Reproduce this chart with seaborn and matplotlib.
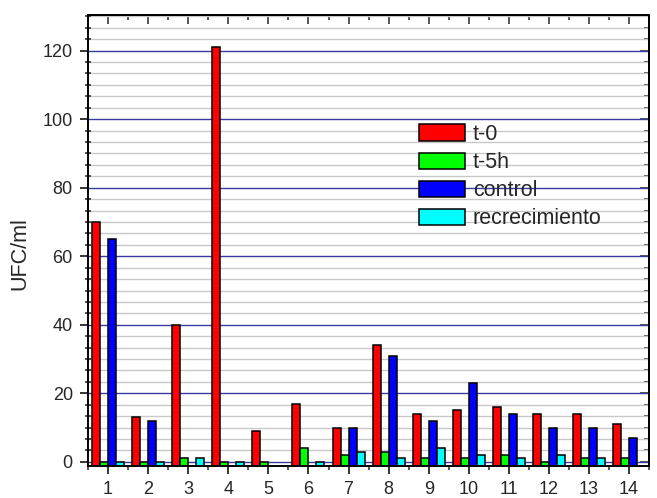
import numpy as np
import pandas as pd
import matplotlib
matplotlib.use("Agg")
import matplotlib.pyplot as plt
import seaborn as sns
from matplotlib.ticker import MultipleLocator, FixedLocator

# datos (NaN = barra ausente)
muestras = [str(i) for i in range(1, 15)]
t0 = [70, 13, 40, 121, 9, 17, 10, 34, 14, 15, 16, 14, 14, 11]
t5h = [0, 0, 1, 0, 0, 4, 2, 3, 1, 1, 2, 0, 1, 1]
control = [65, 12, np.nan, np.nan, np.nan, np.nan, 10, 31, 12, 23, 14, 10, 10, 7]
recrecimiento = [0, 0, 1, 0, np.nan, 0, 3, 1, 4, 2, 1, 2, 1, np.nan]
series = ["t-0", "t-5h", "control", "recrecimiento"]
colores = ["#ff0000", "#00ff00", "#0000ff", "#00ffff"]

df = pd.DataFrame({
    "muestra": muestras * 4,
    "serie": np.repeat(series, len(muestras)),
    "ufc": t0 + t5h + control + recrecimiento,
})

sns.set_style("ticks")
plt.rcParams["font.family"] = ["Liberation Sans", "DejaVu Sans"]

fig = plt.figure(figsize=(6.57, 4.98), dpi=100)
ax = fig.add_axes([0.134, 0.0643, 0.854, 0.9056])

# las barras arrancan desde el borde inferior del eje (como en Origin)
ymin, ymax = -1.2, 130.4
df["alto"] = df["ufc"] - ymin

sns.barplot(data=df, x="muestra", y="alto", hue="serie", order=muestras,
            hue_order=series, palette=colores, saturation=1, width=0.8,
            errorbar=None, edgecolor="black", linewidth=1.1, bottom=ymin,
            legend=False, ax=ax)

ax.set_xlim(-0.5, len(muestras) - 0.5)
ax.set_ylim(ymin, ymax)
ax.set_yticks(range(0, 121, 20))
ax.yaxis.set_minor_locator(MultipleLocator(20 / 6))
ax.xaxis.set_minor_locator(FixedLocator(np.arange(-0.5, len(muestras), 1)))
ax.set_xlabel("")
ax.set_ylabel("UFC/ml", fontsize=15.5)
ax.yaxis.set_label_coords(-0.102, 0.47)

ax.grid(axis="y", which="major", color="#3a3aa0", linewidth=1)
ax.grid(axis="y", which="minor", color="#c8c8c8", linewidth=1)
ax.set_axisbelow(True)

for s in ax.spines.values():
    s.set_linewidth(1.4)
    s.set_color("black")
ax.tick_params(axis="both", which="major", labelsize=13, width=1.1, color="black")
ax.tick_params(axis="x", which="major", direction="out", length=6, pad=4.5)
ax.tick_params(axis="x", which="minor", direction="out", length=3, width=1.1, bottom=True)
ax.tick_params(axis="y", which="major", direction="out", length=6, pad=5)
ax.tick_params(axis="y", which="minor", direction="inout", length=5, width=1.1, left=True)

arriba = ax.secondary_xaxis("top")
arriba.set_xticks(range(len(muestras)))
arriba.set_xticklabels([])
arriba.xaxis.set_minor_locator(FixedLocator(np.arange(-0.5, len(muestras), 1)))
arriba.tick_params(which="major", direction="in", length=6.5, width=1.1)
arriba.tick_params(which="minor", direction="in", length=3.5, width=1.1)
arriba.spines["top"].set_linewidth(1.4)

derecha = ax.secondary_yaxis("right")
derecha.set_yticks(range(0, 121, 20))
derecha.set_yticklabels([])
derecha.yaxis.set_minor_locator(MultipleLocator(20 / 6))
derecha.tick_params(which="major", direction="in", length=6.5, width=1.1)
derecha.tick_params(which="minor", direction="in", length=3.5, width=1.1)
derecha.spines["right"].set_linewidth(1.4)

ax.legend(ax.containers, series, loc="upper left", bbox_to_anchor=(0.59, 0.758),
          frameon=False, fontsize=15.5, handlelength=2.15, handleheight=0.8,
          handletextpad=0.35, labelspacing=0.33, borderpad=0, borderaxespad=0)

fig.savefig("out.png", dpi=100)
